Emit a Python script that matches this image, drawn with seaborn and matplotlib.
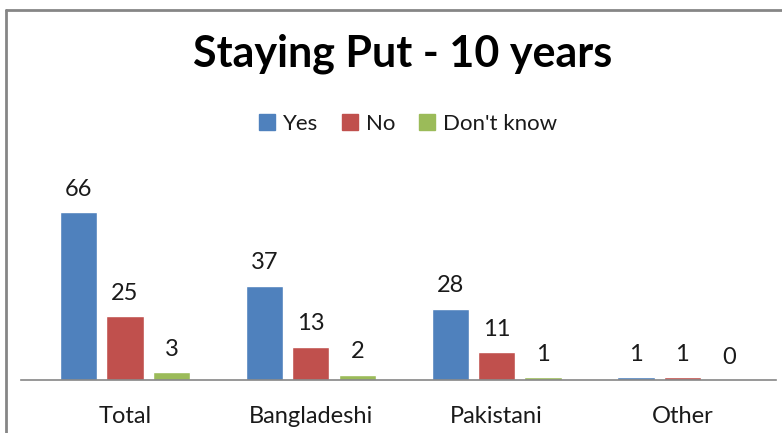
import pandas as pd
import matplotlib
matplotlib.use("Agg")
import matplotlib.pyplot as plt
from matplotlib.lines import Line2D
import seaborn as sns

# dados
grupos = ["Total", "Bangladeshi", "Pakistani", "Other"]
respostas = ["Yes", "No", "Don't know"]
sim = [66, 37, 28, 1]
nao = [25, 13, 11, 1]
nao_sei = [3, 2, 1, 0]
cores = ["#4F81BD", "#C0504D", "#9BBB59"]

dados = pd.DataFrame({
    "grupo": grupos * 3,
    "resposta": [respostas[0]] * 4 + [respostas[1]] * 4 + [respostas[2]] * 4,
    "valor": sim + nao + nao_sei,
})

sns.set_theme(style="white")
plt.rcParams["font.family"] = ["Lato", "DejaVu Sans"]

W, H = 782, 433
fig = plt.figure(figsize=(W / 100, H / 100), dpi=100)
ax = fig.add_axes([21 / W, (H - 380) / H, 755 / W, 210 / H])

sns.barplot(data=dados, x="grupo", y="valor", hue="resposta",
            order=grupos, hue_order=respostas, palette=cores,
            width=0.75, gap=0.2, saturation=1, ax=ax, legend=False)

# rotulos de valor acima das barras
for cont in ax.containers:
    ax.bar_label(cont, padding=9, fontsize=17, color="#1a1a1a")

ax.set_xlim(-0.56, 3.504)
ax.set_ylim(0, 210 / 2.545)
ax.set_xlabel("")
ax.set_ylabel("")
ax.set_yticks([])
ax.tick_params(axis="x", length=0, pad=19, labelsize=17, labelcolor="#1a1a1a")
for lado in ["top", "right", "left"]:
    ax.spines[lado].set_visible(False)
ax.spines["bottom"].set_color("#868686")
ax.spines["bottom"].set_linewidth(1.2)

# legenda
handles = [plt.Rectangle((0, 0), 1, 1, color=c) for c in cores]
fig.legend(handles, respostas, loc="center", bbox_to_anchor=(408 / W, 1 - 124 / H),
           ncol=3, frameon=False, fontsize=16, handlelength=0.7, handleheight=0.7,
           handletextpad=0.35, columnspacing=1.1, labelcolor="#1a1a1a")

# titulo
fig.text(403 / W, 1 - 54 / H, "Staying Put - 10 years", ha="center", va="center",
         fontsize=31, fontweight="bold", color="black")

# borda do grafico
fig.add_artist(Line2D([6 / W, 6 / W], [0, 1 - 10 / H], transform=fig.transFigure,
                      color="#868686", linewidth=2))
fig.add_artist(Line2D([6 / W, 1], [1 - 10 / H, 1 - 10 / H], transform=fig.transFigure,
                      color="#868686", linewidth=2))

fig.savefig("out.png", dpi=100)
